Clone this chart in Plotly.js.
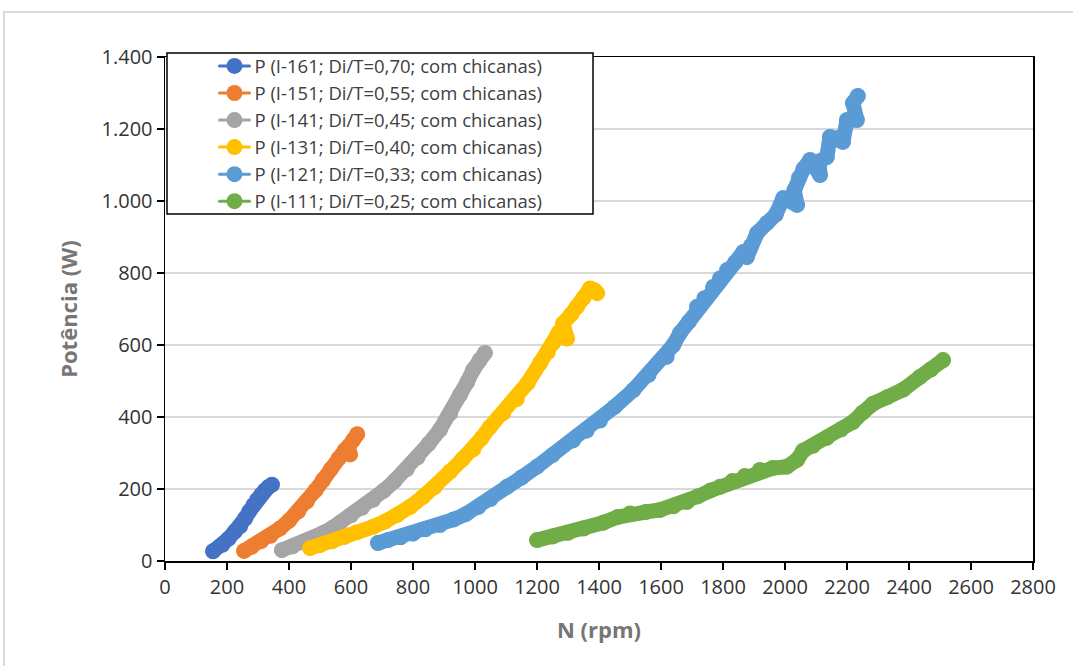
<!DOCTYPE html>
<html>
<head>
<meta charset="utf-8">
<script src="https://cdn.plot.ly/plotly-3.0.1.min.js"></script>
<style>
  html, body { margin: 0; padding: 0; background: #fff; }
  #chart { width: 1073px; height: 666px; }
  .js-line { stroke-linejoin: round; stroke-linecap: round; }
</style>
</head>
<body>
<div id="chart"></div>
<script>
// Impeller power curves, baffled tank: power (W) against speed (rpm)
const seriesNames = [
  'P (I-161; Di/T=0,70; com chicanas)',
  'P (I-151; Di/T=0,55; com chicanas)',
  'P (I-141; Di/T=0,45; com chicanas)',
  'P (I-131; Di/T=0,40; com chicanas)',
  'P (I-121; Di/T=0,33; com chicanas)',
  'P (I-111; Di/T=0,25; com chicanas)'
];
const seriesColors = ['#4472C4', '#ED7D31', '#A5A5A5', '#FFC000', '#5B9BD5', '#70AD47'];

// I-161
const n161 = [155, 185, 205, 225, 242, 258, 272, 285, 297, 310, 322, 333, 345];
const p161 = [27, 45, 62, 82, 96, 118, 138, 155, 170, 184, 196, 205, 212];
// I-151
const n151 = [255, 280, 310, 340, 370, 400, 430, 458, 485, 510, 535, 560, 580, 597, 592, 607, 620];
const p151 = [28, 40, 55, 70, 90, 112, 138, 166, 196, 225, 255, 285, 308, 296, 318, 336, 352];
// I-141
const n141 = [377, 410, 445, 478, 510, 540, 565, 600, 635, 671, 705, 740, 780, 815, 850, 887, 920, 952, 975, 994, 1015, 1032];
const p141 = [30, 40, 52, 64, 78, 92, 106, 127, 148, 170, 195, 222, 255, 288, 325, 365, 410, 462, 497, 531, 558, 578];
// I-131
const n131 = [468, 500, 540, 580, 620, 671, 710, 750, 790, 832, 870, 919, 960, 994, 1020, 1048, 1090, 1135, 1170, 1210, 1235, 1252, 1270, 1297, 1284, 1310, 1329, 1350, 1371, 1385, 1394];
const p131 = [36, 44, 55, 67, 80, 95, 110, 128, 150, 178, 205, 248, 283, 310, 340, 372, 410, 450, 495, 550, 580, 605, 635, 618, 660, 685, 706, 730, 757, 752, 744];
// I-121
const n121 = [687, 720, 760, 800, 840, 887, 930, 970, 1010, 1050, 1103, 1150, 1200, 1250, 1316, 1360, 1403, 1450, 1511, 1560, 1618, 1640, 1661, 1690, 1716, 1740, 1768, 1790, 1813, 1840, 1865, 1877, 1890, 1910, 1942, 1970, 1994, 2039, 2030, 2045, 2060, 2081, 2113, 2110, 2135, 2145, 2170, 2187, 2200, 2232, 2219, 2235];
const p121 = [50, 58, 66, 76, 88, 100, 115, 130, 150, 172, 206, 232, 262, 294, 335, 362, 390, 428, 475, 517, 567, 600, 633, 665, 706, 730, 761, 785, 808, 830, 858, 844, 875, 911, 939, 962, 1008, 989, 1030, 1064, 1090, 1114, 1072, 1110, 1122, 1178, 1175, 1164, 1225, 1225, 1272, 1292];
// I-111
const n111 = [1200, 1250, 1300, 1350, 1413, 1460, 1500, 1550, 1597, 1640, 1684, 1720, 1760, 1790, 1830, 1870, 1919, 1960, 2006, 2039, 2058, 2090, 2135, 2180, 2219, 2250, 2284, 2330, 2381, 2435, 2470, 2510];
const p111 = [58, 68, 78, 90, 106, 122, 132, 136, 142, 152, 164, 180, 196, 206, 222, 236, 253, 258, 262, 281, 306, 320, 342, 365, 386, 412, 437, 455, 476, 511, 532, 558];

const xs = [n161, n151, n141, n131, n121, n111];
const ys = [p161, p151, p141, p131, p121, p111];

const xTicks = [0, 200, 400, 600, 800, 1000, 1200, 1400, 1600, 1800, 2000, 2200, 2400, 2600, 2800];
const yTicks = [0, 200, 400, 600, 800, 1000, 1200, 1400];

const traces = [];
seriesNames.forEach((name, i) => {
  // thick band under the markers
  traces.push({
    x: xs[i], y: ys[i], type: 'scatter', mode: 'lines',
    line: { color: seriesColors[i], width: 15 },
    showlegend: false, hoverinfo: 'skip', legendgroup: 'g' + i
  });
  traces.push({
    x: xs[i], y: ys[i], type: 'scatter', mode: 'lines+markers', name: name,
    line: { color: seriesColors[i], width: 3 },
    marker: { color: seriesColors[i], size: 16 },
    legendgroup: 'g' + i
  });
});

const tickFont = { family: 'Open Sans, sans-serif', size: 20, color: '#333333' };
const titleFont = { family: 'Open Sans, sans-serif', size: 22, color: '#767676', weight: 'bold' };

const layout = {
  width: 1073, height: 666,
  margin: { l: 165, r: 40, t: 57, b: 105 },
  paper_bgcolor: '#ffffff', plot_bgcolor: '#ffffff',
  separators: ',.',
  showlegend: true,
  xaxis: {
    range: [0, 2800], tickvals: xTicks, ticktext: xTicks.map(String),
    showgrid: false, zeroline: false,
    showline: true, linecolor: '#000000', linewidth: 1.5, mirror: true,
    ticks: 'outside', ticklen: 7, tickcolor: '#000000', tickwidth: 1.5,
    tickfont: tickFont,
    title: { text: '<b>N (rpm)</b>', font: titleFont, standoff: 24 }
  },
  yaxis: {
    range: [0, 1400], tickvals: yTicks, separatethousands: true, tickformat: ',d',
    showgrid: true, gridcolor: '#d9d9d9', gridwidth: 1.5, zeroline: false,
    showline: true, linecolor: '#000000', linewidth: 1.5, mirror: true,
    ticks: 'outside', ticklen: 7, tickcolor: '#000000', tickwidth: 1.5,
    tickfont: tickFont,
    title: { text: '<b>Potência (W)</b>', font: titleFont, standoff: 18 }
  },
  legend: {
    x: 0.057, y: 1.019, xanchor: 'left', yanchor: 'top',
    bgcolor: 'rgba(0,0,0,0)', borderwidth: 0,
    font: { family: 'Open Sans, sans-serif', size: 18.5, color: '#404040' },
    tracegroupgap: 0
  },
  shapes: [
    // outer frame of the chart
    { type: 'rect', xref: 'paper', yref: 'paper',
      x0: -0.1855, x1: 1.2, y0: -0.3, y1: 1.0893,
      line: { color: '#d9d9d9', width: 2 }, fillcolor: 'rgba(0,0,0,0)', layer: 'below' },
    // legend box
    { type: 'rect', xref: 'paper', yref: 'paper',
      x0: 0.0023, x1: 0.4931, y0: 0.6885, y1: 1.0079,
      line: { color: '#000000', width: 1.5 }, fillcolor: '#ffffff', layer: 'above' }
  ]
};

Plotly.newPlot('chart', traces, layout, { displayModeBar: false, staticPlot: true });
</script>
</body>
</html>
